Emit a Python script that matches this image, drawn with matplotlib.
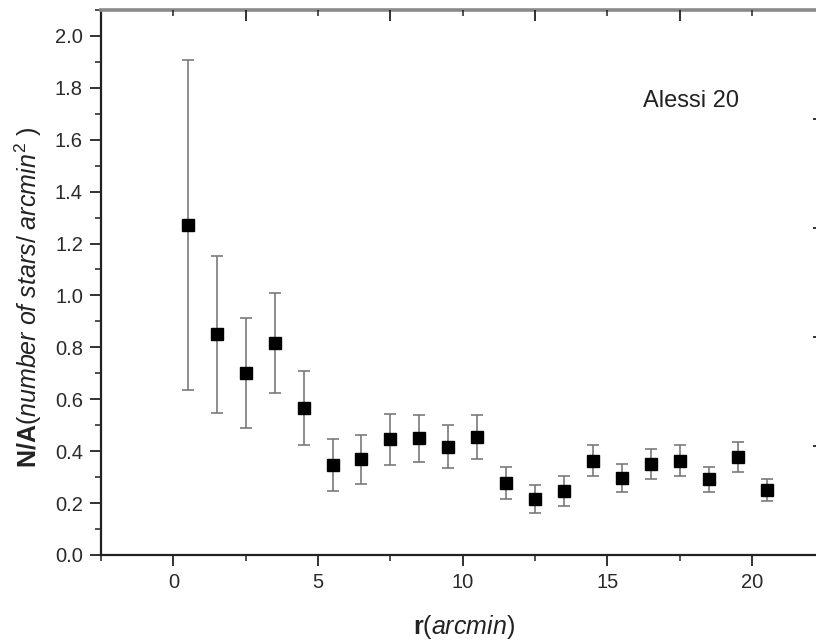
import matplotlib
matplotlib.use("Agg")
import matplotlib.pyplot as plt
from matplotlib.ticker import MultipleLocator, FixedLocator, NullFormatter

plt.rcParams['font.family'] = ['Liberation Sans', 'DejaVu Sans']
plt.rcParams['mathtext.fontset'] = 'custom'
plt.rcParams['mathtext.rm'] = 'Liberation Sans'
plt.rcParams['mathtext.it'] = 'Liberation Sans:italic'
plt.rcParams['mathtext.bf'] = 'Liberation Sans:bold'

# radial bins (arcmin) and surface density with errors
r_arcmin = [0.5, 1.5, 2.5, 3.5, 4.5, 5.5, 6.5, 7.5, 8.5, 9.5, 10.5,
            11.5, 12.5, 13.5, 14.5, 15.5, 16.5, 17.5, 18.5, 19.5, 20.5]
density = [1.272, 0.850, 0.702, 0.818, 0.566, 0.347, 0.368, 0.446, 0.449, 0.417, 0.454,
           0.278, 0.215, 0.247, 0.363, 0.297, 0.349, 0.364, 0.292, 0.377, 0.250]
density_err = [0.636, 0.302, 0.212, 0.193, 0.142, 0.101, 0.095, 0.099, 0.089, 0.083, 0.084,
               0.061, 0.053, 0.057, 0.060, 0.054, 0.058, 0.060, 0.048, 0.057, 0.043]

y_ticks = [0.0, 0.2, 0.4, 0.6, 0.8, 1.0, 1.2, 1.4, 1.6, 1.8, 2.0]
x_ticks = [0, 5, 10, 15, 20]

fig = plt.figure(figsize=(8.16, 6.43), dpi=100)
ax = fig.add_axes([0.1238, 0.1369, 0.8865, 0.8476])

ax.errorbar(r_arcmin, density, yerr=density_err, fmt='s', color='black',
            markersize=8.6, ecolor='#7a7a7a', elinewidth=1.2, capsize=4.3,
            capthick=1.2, zorder=3)

ax.set_xlim(-2.5, 22.5)
ax.set_ylim(0, 2.1)

ax.xaxis.set_major_locator(FixedLocator(x_ticks))
ax.xaxis.set_minor_locator(MultipleLocator(2.5))
ax.yaxis.set_major_locator(FixedLocator(y_ticks))
ax.yaxis.set_minor_locator(MultipleLocator(0.1))
ax.set_yticklabels([f"{v:.1f}" for v in y_ticks])

ax.tick_params(axis='both', which='major', direction='out', length=8, width=1.3,
               labelsize=14.5, labelcolor='#2a2a2a', color='#222222', pad=5)
ax.tick_params(axis='both', which='minor', direction='out', length=4, width=1.1,
               color='#222222')
ax.tick_params(top=False, right=False, which='both')

for side in ('left', 'bottom'):
    ax.spines[side].set_linewidth(1.6)
    ax.spines[side].set_color('#222222')
ax.spines['top'].set_linewidth(2.6)
ax.spines['top'].set_color('#8a8a8a')
ax.spines['right'].set_linewidth(1.6)
ax.spines['right'].set_color('#222222')

# top axis: inward ticks with its own spacing
axt = ax.twiny()
axt.set_xlim(ax.get_xlim())
axt.xaxis.set_major_locator(FixedLocator([2.5, 7.5, 12.5, 17.5]))
axt.xaxis.set_minor_locator(FixedLocator([0, 5, 10, 15, 20]))
axt.xaxis.set_major_formatter(NullFormatter())
axt.tick_params(axis='x', which='major', direction='in', length=8, width=1.3, color='#222222')
axt.tick_params(axis='x', which='minor', direction='in', length=4, width=1.1, color='#222222')
for s in axt.spines.values():
    s.set_visible(False)

# right axis: inward ticks with its own spacing
axr = ax.twinx()
axr.set_ylim(ax.get_ylim())
axr.yaxis.set_major_locator(FixedLocator([0.42, 0.84, 1.26, 1.68]))
axr.yaxis.set_minor_locator(FixedLocator([0.21, 0.63, 1.05, 1.47, 1.89]))
axr.yaxis.set_major_formatter(NullFormatter())
axr.tick_params(axis='y', which='major', direction='in', length=8, width=1.3, color='#222222')
axr.tick_params(axis='y', which='minor', direction='in', length=5, width=1.1, color='#222222')
for s in axr.spines.values():
    s.set_visible(False)

ax.text(16.23, 1.726, 'Alessi 20', fontsize=17, color='#222222', va='baseline', ha='left')

ax.set_xlabel(r'$\mathbf{r}\mathrm{(}\mathit{arcmin}\mathrm{)}$', fontsize=18,
              color='#222222')
ax.set_ylabel(r'$\mathbf{N/A}\mathrm{(}\mathit{number\ of\ stars/\ arcmin^{2}}\mathrm{\ )}$',
              fontsize=18, color='#222222')
ax.xaxis.set_label_coords(0.502, -0.106)
ax.yaxis.set_label_coords(-0.079, 0.473)

fig.savefig('out.png', dpi=100)
